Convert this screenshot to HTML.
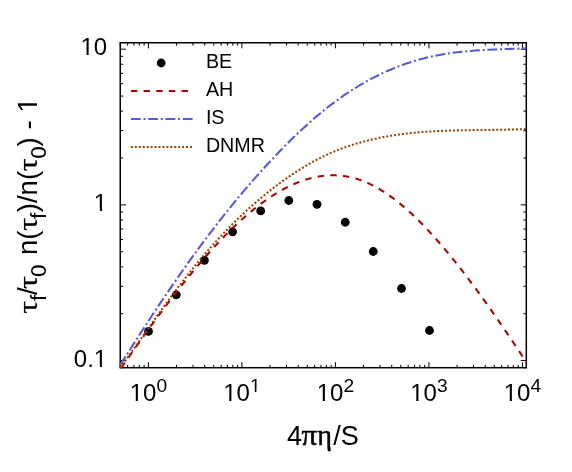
<!DOCTYPE html>
<html><head><meta charset="utf-8"><title>plot</title>
<style>
html,body{margin:0;padding:0;background:#fff;}
body{width:572px;height:472px;overflow:hidden;font-family:"Liberation Sans",sans-serif;}
svg{display:block;will-change:transform;font-family:"Liberation Sans",sans-serif;}
.sym{font-family:"Liberation Serif",serif;stroke:#000;stroke-width:0.2px;}
.symb{font-family:"Liberation Serif",serif;stroke:#000;stroke-width:0.5px;}
</style></head><body>
<svg width="572" height="472" viewBox="0 0 572 472">
<rect width="572" height="472" fill="#fff"/>
<defs><clipPath id="cp"><rect x="119.5" y="42.0" width="407.54999999999995" height="326.45"/></clipPath></defs>
<g stroke="#000" stroke-width="1" fill="none">
<path d="M120.25,367.7 v-2.9 M120.25,42.75 v2.9"/>
<path d="M127.65,367.7 v-2.9 M127.65,42.75 v2.9"/>
<path d="M133.91,367.7 v-2.9 M133.91,42.75 v2.9"/>
<path d="M139.34,367.7 v-2.9 M139.34,42.75 v2.9"/>
<path d="M144.12,367.7 v-2.9 M144.12,42.75 v2.9"/>
<path d="M148.40,367.7 v-5.6 M148.40,42.75 v5.6"/>
<path d="M176.55,367.7 v-2.9 M176.55,42.75 v2.9"/>
<path d="M193.01,367.7 v-2.9 M193.01,42.75 v2.9"/>
<path d="M204.70,367.7 v-2.9 M204.70,42.75 v2.9"/>
<path d="M213.76,367.7 v-2.9 M213.76,42.75 v2.9"/>
<path d="M221.16,367.7 v-2.9 M221.16,42.75 v2.9"/>
<path d="M227.42,367.7 v-2.9 M227.42,42.75 v2.9"/>
<path d="M232.84,367.7 v-2.9 M232.84,42.75 v2.9"/>
<path d="M237.63,367.7 v-2.9 M237.63,42.75 v2.9"/>
<path d="M241.91,367.7 v-5.6 M241.91,42.75 v5.6"/>
<path d="M270.05,367.7 v-2.9 M270.05,42.75 v2.9"/>
<path d="M286.52,367.7 v-2.9 M286.52,42.75 v2.9"/>
<path d="M298.20,367.7 v-2.9 M298.20,42.75 v2.9"/>
<path d="M307.27,367.7 v-2.9 M307.27,42.75 v2.9"/>
<path d="M314.67,367.7 v-2.9 M314.67,42.75 v2.9"/>
<path d="M320.93,367.7 v-2.9 M320.93,42.75 v2.9"/>
<path d="M326.35,367.7 v-2.9 M326.35,42.75 v2.9"/>
<path d="M331.14,367.7 v-2.9 M331.14,42.75 v2.9"/>
<path d="M335.41,367.7 v-5.6 M335.41,42.75 v5.6"/>
<path d="M363.56,367.7 v-2.9 M363.56,42.75 v2.9"/>
<path d="M380.03,367.7 v-2.9 M380.03,42.75 v2.9"/>
<path d="M391.71,367.7 v-2.9 M391.71,42.75 v2.9"/>
<path d="M400.77,367.7 v-2.9 M400.77,42.75 v2.9"/>
<path d="M408.18,367.7 v-2.9 M408.18,42.75 v2.9"/>
<path d="M414.44,367.7 v-2.9 M414.44,42.75 v2.9"/>
<path d="M419.86,367.7 v-2.9 M419.86,42.75 v2.9"/>
<path d="M424.64,367.7 v-2.9 M424.64,42.75 v2.9"/>
<path d="M428.92,367.7 v-5.6 M428.92,42.75 v5.6"/>
<path d="M457.07,367.7 v-2.9 M457.07,42.75 v2.9"/>
<path d="M473.54,367.7 v-2.9 M473.54,42.75 v2.9"/>
<path d="M485.22,367.7 v-2.9 M485.22,42.75 v2.9"/>
<path d="M494.28,367.7 v-2.9 M494.28,42.75 v2.9"/>
<path d="M501.68,367.7 v-2.9 M501.68,42.75 v2.9"/>
<path d="M507.94,367.7 v-2.9 M507.94,42.75 v2.9"/>
<path d="M513.37,367.7 v-2.9 M513.37,42.75 v2.9"/>
<path d="M518.15,367.7 v-2.9 M518.15,42.75 v2.9"/>
<path d="M522.43,367.7 v-5.6 M522.43,42.75 v5.6"/>
<path d="M120.25,367.70 h2.9 M526.3,367.70 h-2.9"/>
<path d="M120.25,360.58 h5.6 M526.3,360.58 h-5.6"/>
<path d="M120.25,313.71 h2.9 M526.3,313.71 h-2.9"/>
<path d="M120.25,286.29 h2.9 M526.3,286.29 h-2.9"/>
<path d="M120.25,266.84 h2.9 M526.3,266.84 h-2.9"/>
<path d="M120.25,251.75 h2.9 M526.3,251.75 h-2.9"/>
<path d="M120.25,239.43 h2.9 M526.3,239.43 h-2.9"/>
<path d="M120.25,229.00 h2.9 M526.3,229.00 h-2.9"/>
<path d="M120.25,219.97 h2.9 M526.3,219.97 h-2.9"/>
<path d="M120.25,212.01 h2.9 M526.3,212.01 h-2.9"/>
<path d="M120.25,204.89 h5.6 M526.3,204.89 h-5.6"/>
<path d="M120.25,158.02 h2.9 M526.3,158.02 h-2.9"/>
<path d="M120.25,130.60 h2.9 M526.3,130.60 h-2.9"/>
<path d="M120.25,111.15 h2.9 M526.3,111.15 h-2.9"/>
<path d="M120.25,96.06 h2.9 M526.3,96.06 h-2.9"/>
<path d="M120.25,83.73 h2.9 M526.3,83.73 h-2.9"/>
<path d="M120.25,73.31 h2.9 M526.3,73.31 h-2.9"/>
<path d="M120.25,64.28 h2.9 M526.3,64.28 h-2.9"/>
<path d="M120.25,56.32 h2.9 M526.3,56.32 h-2.9"/>
<path d="M120.25,49.19 h5.6 M526.3,49.19 h-5.6"/>
</g>
<rect x="120.25" y="42.75" width="406.04999999999995" height="324.95" fill="none" stroke="#000" stroke-width="1.5"/>
<g fill="#000">
<circle cx="148.5" cy="331.4" r="4.4"/>
<circle cx="176.25" cy="294.8" r="4.4"/>
<circle cx="204.4" cy="260.3" r="4.4"/>
<circle cx="232.6" cy="231.8" r="4.4"/>
<circle cx="260.7" cy="210.9" r="4.4"/>
<circle cx="288.8" cy="200.5" r="4.4"/>
<circle cx="317" cy="204.3" r="4.4"/>
<circle cx="345.25" cy="222.25" r="4.4"/>
<circle cx="373.25" cy="251.5" r="4.4"/>
<circle cx="401.5" cy="288.5" r="4.4"/>
<circle cx="429.5" cy="330.5" r="4.4"/>
</g>
<g clip-path="url(#cp)" fill="none" stroke-width="2.05">
<path d="M121.20,367.97 L123.75,364.30 L126.30,360.65 L128.85,357.01 L131.40,353.38 L133.95,349.76 L136.50,346.15 L139.05,342.56 L141.60,338.99 L144.15,335.43 L146.70,331.88 L149.25,328.35 L151.80,324.85 L154.35,321.36 L156.90,317.89 L159.45,314.44 L162.01,311.01 L164.56,307.61 L167.11,304.23 L169.66,300.87 L172.21,297.54 L174.76,294.24 L177.31,290.96 L179.86,287.71 L182.41,284.48 L184.96,281.29 L187.51,278.13 L190.06,275.00 L192.61,271.90 L195.16,268.83 L197.71,265.80 L200.26,262.80 L202.81,259.83 L205.36,256.90 L207.91,254.01 L210.46,251.16 L213.01,248.35 L215.56,245.57 L218.11,242.84 L220.66,240.14 L223.21,237.49 L225.76,234.88 L228.31,232.32 L230.86,229.80 L233.41,227.32 L235.96,224.90 L238.51,222.51 L241.06,220.18 L243.62,217.90 L246.17,215.66 L248.72,213.48 L251.27,211.34 L253.82,209.26 L256.37,207.24 L258.92,205.26 L261.47,203.34 L264.02,201.48 L266.57,199.67 L269.12,197.92 L271.67,196.23 L274.22,194.60 L276.77,193.03 L279.32,191.52 L281.87,190.07 L284.42,188.68 L286.97,187.35 L289.52,186.09 L292.07,184.90 L294.62,183.77 L297.17,182.70 L299.72,181.71 L302.27,180.78 L304.82,179.92 L307.37,179.13 L309.92,178.42 L312.47,177.77 L315.02,177.20 L317.57,176.70 L320.12,176.27 L322.67,175.92 L325.23,175.65 L327.78,175.45 L330.33,175.33 L332.88,175.29 L335.43,175.33 L337.98,175.45 L340.53,175.64 L343.08,175.93 L345.63,176.29 L348.18,176.74 L350.73,177.27 L353.28,177.89 L355.83,178.59 L358.38,179.38 L360.93,180.26 L363.48,181.22 L366.03,182.27 L368.58,183.40 L371.13,184.61 L373.68,185.91 L376.23,187.28 L378.78,188.73 L381.33,190.26 L383.88,191.87 L386.43,193.54 L388.98,195.29 L391.53,197.12 L394.08,199.01 L396.63,200.97 L399.18,203.00 L401.73,205.09 L404.28,207.25 L406.84,209.47 L409.39,211.76 L411.94,214.10 L414.49,216.51 L417.04,218.97 L419.59,221.49 L422.14,224.07 L424.69,226.69 L427.24,229.38 L429.79,232.11 L432.34,234.89 L434.89,237.72 L437.44,240.60 L439.99,243.53 L442.54,246.50 L445.09,249.51 L447.64,252.57 L450.19,255.66 L452.74,258.80 L455.29,261.97 L457.84,265.18 L460.39,268.43 L462.94,271.71 L465.49,275.02 L468.04,278.37 L470.59,281.76 L473.14,285.17 L475.69,288.62 L478.24,292.09 L480.79,295.60 L483.34,299.13 L485.89,302.69 L488.45,306.28 L491.00,309.90 L493.55,313.54 L496.10,317.21 L498.65,320.89 L501.20,324.61 L503.75,328.34 L506.30,332.10 L508.85,335.87 L511.40,339.67 L513.95,343.48 L516.50,347.32 L519.05,351.16 L521.60,355.03 L524.15,358.91 L526.70,362.81" stroke="#aa0000" stroke-dasharray="6.43 6.29"/>
<path d="M120.25,364.91 L122.80,360.86 L125.36,356.82 L127.91,352.80 L130.47,348.79 L133.02,344.79 L135.57,340.81 L138.13,336.85 L140.68,332.90 L143.23,328.97 L145.79,325.05 L148.34,321.16 L150.90,317.28 L153.45,313.42 L156.00,309.57 L158.56,305.75 L161.11,301.94 L163.66,298.15 L166.22,294.39 L168.77,290.64 L171.33,286.91 L173.88,283.20 L176.43,279.52 L178.99,275.86 L181.54,272.21 L184.09,268.59 L186.65,265.00 L189.20,261.42 L191.76,257.87 L194.31,254.34 L196.86,250.84 L199.42,247.36 L201.97,243.90 L204.52,240.47 L207.08,237.06 L209.63,233.68 L212.19,230.33 L214.74,227.00 L217.29,223.70 L219.85,220.43 L222.40,217.18 L224.95,213.96 L227.51,210.77 L230.06,207.60 L232.62,204.46 L235.17,201.35 L237.72,198.27 L240.28,195.21 L242.83,192.17 L245.38,189.17 L247.94,186.19 L250.49,183.23 L253.05,180.31 L255.60,177.41 L258.15,174.53 L260.71,171.68 L263.26,168.86 L265.82,166.06 L268.37,163.29 L270.92,160.55 L273.48,157.83 L276.03,155.13 L278.58,152.46 L281.14,149.82 L283.69,147.21 L286.25,144.63 L288.80,142.07 L291.35,139.55 L293.91,137.05 L296.46,134.59 L299.01,132.16 L301.57,129.77 L304.12,127.40 L306.68,125.08 L309.23,122.78 L311.78,120.53 L314.34,118.31 L316.89,116.13 L319.44,113.99 L322.00,111.88 L324.55,109.82 L327.11,107.79 L329.66,105.81 L332.21,103.86 L334.77,101.96 L337.32,100.09 L339.87,98.26 L342.43,96.46 L344.98,94.71 L347.54,92.99 L350.09,91.31 L352.64,89.67 L355.20,88.07 L357.75,86.50 L360.30,84.97 L362.86,83.48 L365.41,82.02 L367.97,80.60 L370.52,79.22 L373.07,77.87 L375.63,76.56 L378.18,75.29 L380.73,74.05 L383.29,72.84 L385.84,71.67 L388.40,70.54 L390.95,69.44 L393.50,68.37 L396.06,67.34 L398.61,66.35 L401.17,65.39 L403.72,64.46 L406.27,63.57 L408.83,62.71 L411.38,61.88 L413.93,61.09 L416.49,60.33 L419.04,59.60 L421.60,58.91 L424.15,58.25 L426.70,57.62 L429.26,57.02 L431.81,56.45 L434.36,55.92 L436.92,55.41 L439.47,54.92 L442.03,54.47 L444.58,54.04 L447.13,53.63 L449.69,53.25 L452.24,52.90 L454.79,52.56 L457.35,52.24 L459.90,51.95 L462.46,51.67 L465.01,51.42 L467.56,51.18 L470.12,50.95 L472.67,50.75 L475.22,50.55 L477.78,50.37 L480.33,50.21 L482.89,50.05 L485.44,49.91 L487.99,49.77 L490.55,49.65 L493.10,49.53 L495.65,49.42 L498.21,49.32 L500.76,49.22 L503.32,49.13 L505.87,49.04 L508.42,48.95 L510.98,48.87 L513.53,48.78 L516.08,48.70 L518.64,48.61 L521.19,48.53 L523.75,48.44 L526.30,48.34" stroke="#5858d4" stroke-dasharray="9.865 2.82 2.01 2.72"/>
<path d="M120.25,367.67 L122.80,364.18 L125.36,360.66 L127.91,357.12 L130.47,353.56 L133.02,349.98 L135.57,346.39 L138.13,342.79 L140.68,339.18 L143.23,335.57 L145.79,331.95 L148.34,328.34 L150.90,324.73 L153.45,321.13 L156.00,317.54 L158.56,313.97 L161.11,310.41 L163.66,306.87 L166.22,303.36 L168.77,299.87 L171.33,296.41 L173.88,292.97 L176.43,289.57 L178.99,286.20 L181.54,282.87 L184.09,279.57 L186.65,276.31 L189.20,273.09 L191.76,269.90 L194.31,266.75 L196.86,263.64 L199.42,260.57 L201.97,257.54 L204.52,254.54 L207.08,251.58 L209.63,248.66 L212.19,245.77 L214.74,242.92 L217.29,240.12 L219.85,237.34 L222.40,234.61 L224.95,231.92 L227.51,229.26 L230.06,226.64 L232.62,224.06 L235.17,221.52 L237.72,219.02 L240.28,216.55 L242.83,214.12 L245.38,211.73 L247.94,209.38 L250.49,207.07 L253.05,204.80 L255.60,202.56 L258.15,200.36 L260.71,198.20 L263.26,196.08 L265.82,193.99 L268.37,191.93 L270.92,189.92 L273.48,187.93 L276.03,185.99 L278.58,184.07 L281.14,182.20 L283.69,180.35 L286.25,178.54 L288.80,176.77 L291.35,175.03 L293.91,173.32 L296.46,171.65 L299.01,170.02 L301.57,168.43 L304.12,166.87 L306.68,165.35 L309.23,163.87 L311.78,162.43 L314.34,161.02 L316.89,159.66 L319.44,158.34 L322.00,157.05 L324.55,155.81 L327.11,154.61 L329.66,153.45 L332.21,152.34 L334.77,151.26 L337.32,150.22 L339.87,149.21 L342.43,148.25 L344.98,147.32 L347.54,146.42 L350.09,145.56 L352.64,144.73 L355.20,143.94 L357.75,143.17 L360.30,142.44 L362.86,141.74 L365.41,141.06 L367.97,140.42 L370.52,139.80 L373.07,139.20 L375.63,138.63 L378.18,138.09 L380.73,137.57 L383.29,137.08 L385.84,136.61 L388.40,136.16 L390.95,135.73 L393.50,135.32 L396.06,134.94 L398.61,134.57 L401.17,134.23 L403.72,133.90 L406.27,133.59 L408.83,133.30 L411.38,133.03 L413.93,132.77 L416.49,132.53 L419.04,132.31 L421.60,132.10 L424.15,131.90 L426.70,131.72 L429.26,131.55 L431.81,131.39 L434.36,131.25 L436.92,131.12 L439.47,130.99 L442.03,130.88 L444.58,130.78 L447.13,130.69 L449.69,130.60 L452.24,130.52 L454.79,130.45 L457.35,130.39 L459.90,130.33 L462.46,130.28 L465.01,130.24 L467.56,130.19 L470.12,130.15 L472.67,130.12 L475.22,130.09 L477.78,130.06 L480.33,130.03 L482.89,130.00 L485.44,129.97 L487.99,129.94 L490.55,129.91 L493.10,129.88 L495.65,129.85 L498.21,129.81 L500.76,129.77 L503.32,129.73 L505.87,129.68 L508.42,129.62 L510.98,129.57 L513.53,129.50 L516.08,129.43 L518.64,129.35 L521.19,129.26 L523.75,129.17 L526.30,129.06" stroke="#964400" stroke-dasharray="2 1.94"/>
</g>
<!-- legend -->
<circle cx="161.2" cy="63" r="4.4" fill="#000"/>
<g fill="none" stroke-width="2">
<path d="M130.9,91 H192.6" stroke="#aa0000" stroke-dasharray="6.4 6.27"/>
<path d="M130.9,119 H192.6" stroke="#5858d4" stroke-dasharray="9.8 2.8 2 2.7"/>
<path d="M130.9,147 H192.6" stroke="#964400" stroke-dasharray="2 1.94"/>
</g>
<g font-size="19.7" fill="#000">
<text x="205.9" y="67.5">BE</text>
<text x="205.9" y="95.5">AH</text>
<text x="205.9" y="123.5">IS</text>
<text x="205.9" y="151.5">DNMR</text>
</g>
<g fill="#000">
<text x="129.70" y="401.2" font-size="24">10<tspan dy="-9.6" font-size="19.2">0</tspan></text>
<text x="223.21" y="401.2" font-size="24">10<tspan dy="-9.6" font-size="19.2">1</tspan></text>
<text x="316.71" y="401.2" font-size="24">10<tspan dy="-9.6" font-size="19.2">2</tspan></text>
<text x="410.22" y="401.2" font-size="24">10<tspan dy="-9.6" font-size="19.2">3</tspan></text>
<text x="503.73" y="401.2" font-size="24">10<tspan dy="-9.6" font-size="19.2">4</tspan></text>
<text x="107.2" y="54.89" font-size="24" text-anchor="end">10</text>
<text x="107.2" y="210.59" font-size="24" text-anchor="end">1</text>
<text x="107.2" y="367.08" font-size="24" text-anchor="end">0.1</text>
</g>
<g fill="#fff">
<rect x="130.42" y="398.91" width="5.32" height="3.39"/><rect x="137.85" y="398.91" width="4.80" height="3.39"/>
<rect x="223.93" y="398.91" width="5.32" height="3.39"/><rect x="231.36" y="398.91" width="4.80" height="3.39"/>
<rect x="317.43" y="398.91" width="5.32" height="3.39"/><rect x="324.87" y="398.91" width="4.80" height="3.39"/>
<rect x="410.94" y="398.91" width="5.32" height="3.39"/><rect x="418.38" y="398.91" width="4.80" height="3.39"/>
<rect x="504.45" y="398.91" width="5.32" height="3.39"/><rect x="511.88" y="398.91" width="4.80" height="3.39"/>
<rect x="250.48" y="389.67" width="4.25" height="3.03"/><rect x="256.43" y="389.67" width="3.84" height="3.03"/>
<rect x="81.22" y="52.60" width="5.32" height="3.39"/><rect x="88.66" y="52.60" width="4.80" height="3.39"/>
<rect x="94.57" y="208.29" width="5.32" height="3.39"/><rect x="102.01" y="208.29" width="4.80" height="3.39"/>
<rect x="94.57" y="364.78" width="5.32" height="3.39"/><rect x="102.01" y="364.78" width="4.80" height="3.39"/>
</g>
<!-- x label -->
<g transform="translate(0,444.9) scale(1,1.02)"><text y="0" font-size="27.1" fill="#000"><tspan x="287.0">4</tspan><tspan class="symb" x="301.4" font-size="28.8" textLength="15.56" lengthAdjust="spacingAndGlyphs">π</tspan><tspan class="symb" x="317.25" font-size="28.8" textLength="14.71" lengthAdjust="spacingAndGlyphs">η</tspan><tspan x="333.3">/S</tspan></text></g>
<!-- y label -->
<g transform="translate(37.2,313) rotate(-90) scale(1,1.02)">
<text font-size="27.6" fill="#000"><tspan class="sym" x="-0.70" y="0" font-size="26.0" textLength="12.96" lengthAdjust="spacingAndGlyphs">τ</tspan><tspan x="12.10" y="8.5" font-size="22.5">f</tspan><tspan x="18.00" y="0">/</tspan><tspan class="sym" x="24.00" y="0" font-size="26.0" textLength="12.96" lengthAdjust="spacingAndGlyphs">τ</tspan><tspan x="36.00" y="8.5" font-size="22.5">0</tspan><tspan x="50.33" y="0"> n(</tspan><tspan class="sym" x="82.24" y="0" font-size="26.0" textLength="12.96" lengthAdjust="spacingAndGlyphs">τ</tspan><tspan x="93.95" y="8.5" font-size="22.5">f</tspan><tspan x="100.78" y="0">)/n(</tspan><tspan class="sym" x="141.88" y="0" font-size="26.0" textLength="12.96" lengthAdjust="spacingAndGlyphs">τ</tspan><tspan x="154.30" y="8.5" font-size="22.5">0</tspan><tspan x="166.58" y="0">) - 1</tspan></text>
<g fill="#fff"><rect x="201.13" y="-2.56" width="6.11" height="3.66"/><rect x="209.68" y="-2.56" width="5.53" height="3.66"/></g>
</g>
</svg>
</body></html>
